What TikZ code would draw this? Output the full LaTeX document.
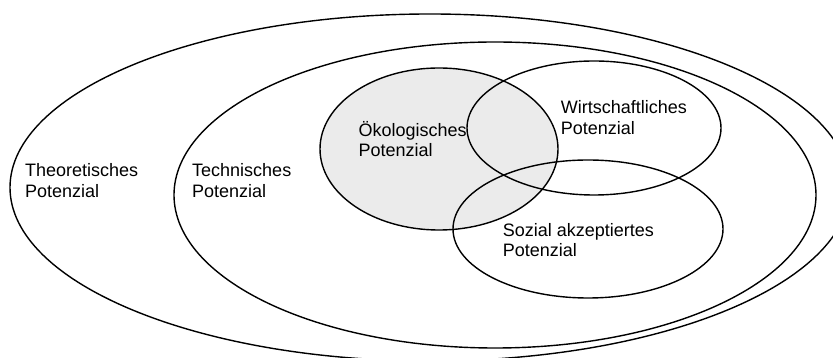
\documentclass[tikz,border=0pt]{standalone}
\usepackage{fontspec}
\setmainfont{Liberation Sans}
\usetikzlibrary{shapes.geometric}

\tikzset{
  ring/.style={draw, ellipse, line width=1.4pt, inner sep=0pt},
  potlabel/.style={anchor=base west, align=left, inner sep=0pt,
    font=\fontsize{18}{20.6}\selectfont},
}

\begin{document}
\begin{tikzpicture}[x=1pt,y=1pt]
    \useasboundingbox (0,0) rectangle (833,358);
    % nested potentials
    \node[ring, minimum width=840, minimum height=347] (theo) at (430,170.5) {};
    \node[ring, minimum width=642, minimum height=306] (tech) at (495,163) {};
    % overlapping subsets
    \node[ring, fill=black!8, minimum width=238, minimum height=162] (oeko) at (439,209) {};
    \node[ring, minimum width=254, minimum height=134] (wirt) at (594,230) {};
    \node[ring, minimum width=270, minimum height=138] (sozial) at (588,129) {};
    % labels (base = last line)
    \node[potlabel] (theotxt) at (25,160.7) {Theoretisches\\Potenzial};
    \node[potlabel] (techtxt) at (192,160.7) {Technisches\\Potenzial};
    \node[potlabel] (oekotxt) at (358.3,201.3) {Ökologisches\\Potenzial};
    \node[potlabel] (wirttxt) at (560.7,223.7) {Wirtschaftliches\\Potenzial};
    \node[potlabel] (soztxt) at (502.7,101.3) {Sozial akzeptiertes\\Potenzial};
\end{tikzpicture}
\end{document}
